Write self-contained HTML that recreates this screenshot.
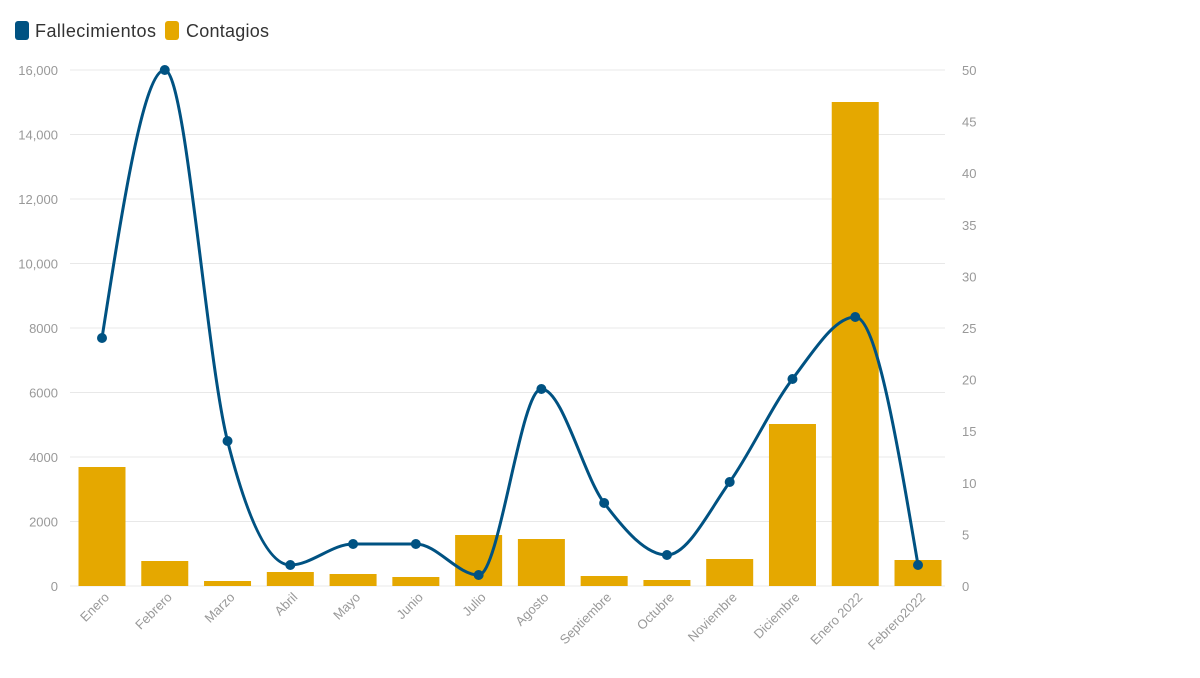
<!DOCTYPE html>
<html><head><meta charset="utf-8"><style>
body{margin:0;background:#fff;width:1200px;height:673px;overflow:hidden;font-family:"Liberation Sans",sans-serif}
</style></head><body>
<svg id="s" width="1200" height="673" xmlns="http://www.w3.org/2000/svg" font-family="Liberation Sans, sans-serif">
<rect x="15" y="21" width="14" height="19" rx="3" fill="#005282"/>
<text x="35" y="37" font-size="18" fill="#333" textLength="121">Fallecimientos</text>
<rect x="165" y="21" width="14" height="19" rx="3" fill="#e5a800"/>
<text x="186" y="37" font-size="18" fill="#333" textLength="83">Contagios</text>
<g id="g"></g>
</svg>
<script>
(function(){
var g=document.getElementById('g');var h='';
var y0=586,H=516;
for(var i=0;i<=8;i++){var y=y0-i*H/8;h+='<line x1="70" x2="945" y1="'+y+'" y2="'+y+'" stroke="#e8e8e8"/>';
var v=i*2000;var l=v>=10000?(Math.floor(v/1000)+',000'):String(v);
h+='<text x="58" y="'+(y+5)+'" font-size="13" fill="#999" text-anchor="end">'+l+'</text>';}
for(var i=0;i<=10;i++){var y=y0-i*H/10;h+='<text x="962" y="'+(y+5)+'" font-size="13" fill="#999">'+(i*5)+'</text>';}
var labs=["Enero","Febrero","Marzo","Abril","Mayo","Junio","Julio","Agosto","Septiembre","Octubre","Noviembre","Diciembre","Enero 2022","Febrero2022"];
var bars=[467,561,581,572,574,577,535,539,576,580,559,424,102,560];
var pts=[338,70,441,565,544,544,575,389,503,555,482,379,317,565];
var step=62.77,x0=102;
for(var i=0;i<labs.length;i++){var x=x0+i*step;
h+='<rect x="'+(x-23.5)+'" y="'+bars[i]+'" width="47" height="'+(y0-bars[i])+'" fill="#e5a800"/>';
h+='<text transform="translate('+(x+8)+',598) rotate(-45)" font-size="13" fill="#999" text-anchor="end">'+labs[i]+'</text>';}
var n=pts.length,X=pts.map(function(_,i){return x0+i*step;}),Y=pts;
var s=[],t=[];
for(var i=0;i<n-1;i++)s.push((Y[i+1]-Y[i])/(X[i+1]-X[i]));
function sg(a){return a<0?-1:1;}
for(var i=1;i<n-1;i++){var h0=X[i]-X[i-1],h1=X[i+1]-X[i];var p=(s[i-1]*h1+s[i]*h0)/(h0+h1);
t[i]=(sg(s[i-1])+sg(s[i]))*Math.min(Math.abs(s[i-1]),Math.abs(s[i]),0.5*Math.abs(p))||0;}
t[0]=(3*s[0]-t[1])/2;t[n-1]=(3*s[n-2]-t[n-2])/2;
var d='M'+X[0]+','+Y[0];
for(var i=0;i<n-1;i++){var dx=(X[i+1]-X[i])/3;
d+=' C'+(X[i]+dx)+','+(Y[i]+dx*t[i])+' '+(X[i+1]-dx)+','+(Y[i+1]-dx*t[i+1])+' '+X[i+1]+','+Y[i+1];}
h+='<path d="'+d+'" fill="none" stroke="#005282" stroke-width="3"/>';
for(var i=0;i<n;i++)h+='<circle cx="'+X[i]+'" cy="'+Y[i]+'" r="5" fill="#005282"/>';
g.innerHTML=h;
})();
</script>
</body></html>
